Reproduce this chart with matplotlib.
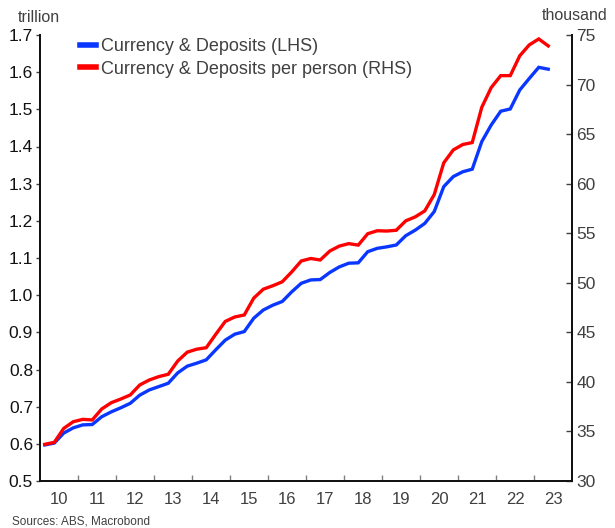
import numpy as np
import pandas as pd
import matplotlib
matplotlib.use("Agg")
import matplotlib.pyplot as plt
from matplotlib.ticker import FixedLocator, NullFormatter, FixedFormatter

plt.rcParams['font.family'] = ['Liberation Sans', 'DejaVu Sans']

# quarterly data, 2010Q1 .. 2023Q2
quarters = pd.period_range('2010Q1', '2023Q2', freq='Q')
deposits_tn = [0.597, 0.602, 0.629, 0.643, 0.651, 0.652, 0.673, 0.686,
               0.697, 0.709, 0.731, 0.745, 0.754, 0.763, 0.791, 0.809,
               0.817, 0.826, 0.853, 0.879, 0.895, 0.902, 0.938, 0.960,
               0.973, 0.983, 1.009, 1.032, 1.041, 1.042, 1.061, 1.076,
               1.086, 1.087, 1.117, 1.126, 1.130, 1.135, 1.160, 1.175,
               1.193, 1.225, 1.292, 1.319, 1.332, 1.339, 1.413, 1.458,
               1.495, 1.501, 1.552, 1.583, 1.613, 1.608]
per_person_k = [33.70, 33.90, 35.31, 35.98, 36.22, 36.16, 37.27, 37.90,
                38.27, 38.68, 39.69, 40.19, 40.53, 40.77, 42.11, 43.00,
                43.30, 43.45, 44.80, 46.10, 46.55, 46.75, 48.45, 49.35,
                49.70, 50.10, 51.10, 52.20, 52.45, 52.30, 53.20, 53.70,
                53.95, 53.80, 54.95, 55.25, 55.22, 55.30, 56.25, 56.65,
                57.25, 58.90, 62.10, 63.40, 63.95, 64.15, 67.70, 69.70,
                70.90, 70.90, 72.90, 74.00, 74.60, 73.90]
years = list(range(2010, 2024))
year_labels = [str(y)[2:] for y in years]

# decimal-year position at middle of each quarter
x = quarters.year + (quarters.quarter - 1) / 4 + 0.125

blue = '#0a37ff'
red = '#ff0000'
grey = '#404040'

fig = plt.figure(figsize=(6.15, 5.28), dpi=100)
ax = fig.add_axes([40/615, 47/528, 532/615, 446/528])
ax2 = ax.twinx()

l1, = ax.plot(x, deposits_tn, color=blue, lw=2.4, solid_joinstyle='miter')
l2, = ax2.plot(x, per_person_k, color=red, lw=2.4, solid_joinstyle='miter')

ax.set_xlim(2010, 2024)
ax.set_ylim(0.5, 1.7)
ax2.set_ylim(30, 75)

ax.set_yticks(np.arange(0.5, 1.71, 0.1))
ax.set_yticklabels([f'{v:.1f}' for v in np.arange(0.5, 1.71, 0.1)])
ax2.set_yticks(np.arange(30, 76, 5))

ax.xaxis.set_major_locator(FixedLocator(years[1:]))
ax.xaxis.set_major_formatter(NullFormatter())
ax.xaxis.set_minor_locator(FixedLocator([y + 0.5 for y in years]))
ax.xaxis.set_minor_formatter(FixedFormatter(year_labels))
ax.tick_params(axis='x', which='major', direction='in', length=4, width=1, color='#808080')
ax.tick_params(axis='x', which='minor', length=0, pad=8, labelsize=12, labelcolor=grey)
ax.tick_params(axis='y', direction='out', length=3, width=1, color=grey,
               labelsize=12.5, labelcolor='#111111', pad=2)
ax2.tick_params(axis='y', direction='in', length=4, width=1, color=grey,
                labelsize=12.5, labelcolor=grey, pad=3)

for a in (ax, ax2):
    a.spines['top'].set_visible(False)
    for s in ('left', 'right', 'bottom'):
        a.spines[s].set_linewidth(1.3)
        a.spines[s].set_color('#111111')

fig.text(18/615, 1 - 17/528, 'trillion', fontsize=11.5, color=grey, va='center', ha='left')
fig.text(607/615, 1 - 15/528, 'thousand', fontsize=11.5, color=grey, va='center', ha='right')
fig.text(12/615, 1 - 521/528, 'Sources: ABS, Macrobond', fontsize=8.5, color=grey, va='center', ha='left')

leg = ax.legend([l1, l2], ['Currency & Deposits (LHS)', 'Currency & Deposits per person (RHS)'],
                loc='upper left', bbox_to_anchor=(0.075, 0.993), frameon=False,
                fontsize=13, handlelength=0.9, handletextpad=0.25, labelspacing=0.3,
                borderaxespad=0, borderpad=0)
for t in leg.get_texts():
    t.set_color(grey)
for h in leg.get_lines():
    h.set_linewidth(4)

fig.savefig('out.png', dpi=100)
